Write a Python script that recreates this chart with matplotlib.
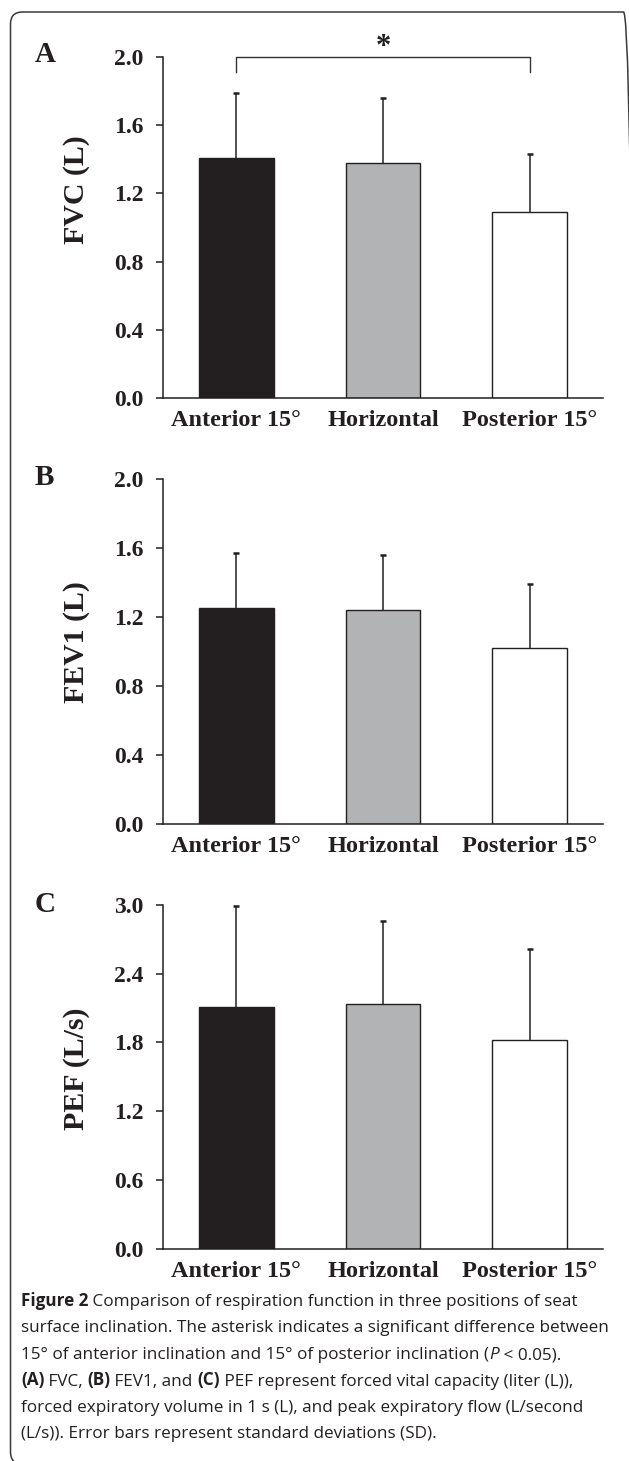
import matplotlib
matplotlib.use('Agg')
import numpy as np
import matplotlib.pyplot as plt
from matplotlib.patches import FancyBboxPatch
from matplotlib.transforms import IdentityTransform

# data
positions = ['Anterior 15°', 'Horizontal', 'Posterior 15°']
fvc_mean = [1.41, 1.38, 1.09]
fvc_sd = [0.38, 0.38, 0.34]
fev1_mean = [1.25, 1.24, 1.02]
fev1_sd = [0.32, 0.32, 0.37]
pef_mean = [2.11, 2.13, 1.82]
pef_sd = [0.88, 0.73, 0.79]

bar_colors = ['#231f20', '#b2b3b5', '#ffffff']
serif = 'Liberation Serif'
ink = '#231f20'

W, H = 629, 1461
fig = plt.figure(figsize=(W / 100, H / 100), dpi=100)


def rect(l, t, r, b):
    return [l / W, 1 - b / H, (r - l) / W, (b - t) / H]


panels = [
    # letter, ylabel, means, sds, ymax, step, (top, bottom) px, label center, letter baseline
    ('A', 'FVC (L)', fvc_mean, fvc_sd, 2.0, 0.4, (57, 398), 190, 62),
    ('B', 'FEV1 (L)', fev1_mean, fev1_sd, 2.0, 0.4, (479, 823.5), 642, 485),
    ('C', 'PEF (L/s)', pef_mean, pef_sd, 3.0, 0.6, (904.7, 1248.7), 1069, 911.5),
]

axes = []
for letter, ylab, means, sds, ymax, step, (top, bot), ylab_y, let_y in panels:
    ax = fig.add_axes(rect(163, top, 603, bot))
    x = np.arange(len(positions))
    means = np.array(means)
    tops = means + np.array(sds)
    ax.bar(x, means, width=0.51, color=bar_colors, edgecolor=ink, linewidth=1.0, zorder=2)
    # upward-only error bars with a cap at the top
    ax.vlines(x, means, tops, color=ink, linewidth=1.1, zorder=3)
    ax.plot(x, tops, linestyle='none', marker='_', markersize=5, markeredgewidth=1.8,
            color=ink, zorder=3, clip_on=False)
    ax.set_xlim(-0.5, 2.5)
    ax.set_ylim(0, ymax)
    ticks = np.arange(0, ymax + 1e-6, step)
    ax.set_yticks(ticks)
    ax.set_yticklabels(['%.1f' % t for t in ticks])
    ax.set_xticks(x)
    ax.set_xticklabels(positions)
    for s in ['top', 'right']:
        ax.spines[s].set_visible(False)
    for s in ['left', 'bottom']:
        ax.spines[s].set_linewidth(1.1)
        ax.spines[s].set_color(ink)
    ax.tick_params(axis='y', direction='out', length=5, width=1.1, pad=9, colors=ink)
    ax.tick_params(axis='x', length=0, pad=9, colors=ink)
    for lab in ax.get_yticklabels():
        lab.set_fontfamily(serif)
        lab.set_fontweight('bold')
        lab.set_fontsize(17)
    for lab in ax.get_xticklabels():
        lab.set_fontfamily(serif)
        lab.set_fontweight('bold')
        lab.set_fontsize(17.5)
    fig.text(77 / W, 1 - ylab_y / H, ylab, rotation=90, ha='center', va='center',
             family=serif, weight='bold', size=21.5, color=ink)
    fig.text(35 / W, 1 - let_y / H, letter, ha='left', va='baseline',
             family=serif, weight='bold', size=21, color=ink)
    axes.append(ax)

# significance bracket in panel A
axA = axes[0]
axA.plot([0, 0, 2, 2], [1.914, 2.0, 2.0, 1.914], color='#333333', lw=1.0, clip_on=False)
axA.text(1, 2.012, '*', ha='center', va='baseline', family=serif, weight='bold',
         size=22, color=ink, clip_on=False)

# rounded frame, right and bottom sides fall outside the picture
frame = FancyBboxPatch((10.5, -3), 625, H - 12 + 3, boxstyle='round,pad=0,rounding_size=12',
                       transform=IdentityTransform(), fill=False, edgecolor='#3a3a3a', linewidth=1.1)
fig.patches.append(frame)

# caption
renderer = fig.canvas.get_renderer()
cap_family = 'Open Sans'


def piece_width(s, size, weight='normal', style='normal'):
    t = fig.text(0, 0, '|' + s + '|', family=cap_family, size=size, weight=weight, style=style)
    w = t.get_window_extent(renderer).width
    t.remove()
    t = fig.text(0, 0, '||', family=cap_family, size=size, weight=weight, style=style)
    w0 = t.get_window_extent(renderer).width
    t.remove()
    return w - w0


caption = [
    [('Figure 2', 'bold', 'normal'), (' Comparison of respiration function in three positions of seat', 'normal', 'normal')],
    [('surface inclination. The asterisk indicates a significant difference between', 'normal', 'normal')],
    [('15° of anterior inclination and 15° of posterior inclination (', 'normal', 'normal'),
     ('P', 'normal', 'italic'), (' < 0.05).', 'normal', 'normal')],
    [('(A)', 'bold', 'normal'), (' FVC, ', 'normal', 'normal'), ('(B)', 'bold', 'normal'),
     (' FEV1, and ', 'normal', 'normal'), ('(C)', 'bold', 'normal'),
     (' PEF represent forced vital capacity (liter (L)),', 'normal', 'normal')],
    [('forced expiratory volume in 1 s (L), and peak expiratory flow (L/second', 'normal', 'normal')],
    [('(L/s)). Error bars represent standard deviations (SD).', 'normal', 'normal')],
]

cap_size = 10 * (608 - 21) / piece_width(caption[1][0][0], 10)
baseline0 = 1306
line_gap = 26.5
for i, line in enumerate(caption):
    xpos = 21
    ypos = H - (baseline0 + i * line_gap)
    for s, weight, style in line:
        fig.text(xpos / W, ypos / H, s, family=cap_family, size=cap_size, weight=weight,
                 style=style, ha='left', va='baseline', color=ink)
        xpos += piece_width(s, cap_size, weight, style)

fig.savefig('out.png', dpi=100)
